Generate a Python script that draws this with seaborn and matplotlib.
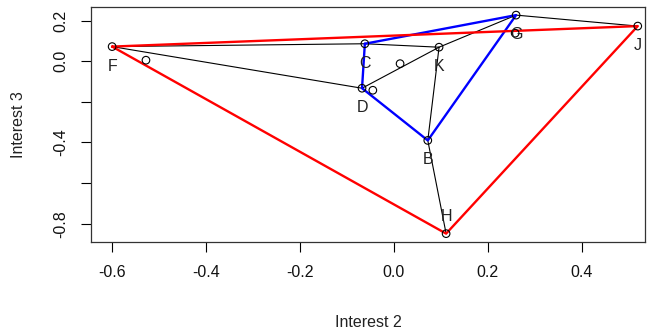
import matplotlib
matplotlib.use("Agg")
import matplotlib.pyplot as plt
import pandas as pd
import seaborn as sns

# labelled points
labels = ["F", "C", "D", "K", "G", "J", "B", "H"]
interest2 = [-0.600, -0.062, -0.068, 0.096, 0.260, 0.519, 0.072, 0.111]
interest3 = [0.072, 0.086, -0.133, 0.069, 0.227, 0.173, -0.390, -0.849]

# unlabelled points
extra2 = [-0.528, -0.045, 0.013, 0.258]
extra3 = [0.005, -0.143, -0.012, 0.138]

black_edges = [("F", "C"), ("F", "D"), ("C", "K"), ("D", "K"),
               ("K", "G"), ("G", "J"), ("K", "B"), ("B", "H")]
blue_path = ["C", "G", "B", "D", "C"]
red_path = ["F", "J", "H", "F"]

xticks = [-0.6, -0.4, -0.2, 0.0, 0.2, 0.4]
yticks = [0.2, 0.0, -0.2, -0.4, -0.6, -0.8]
ytick_labels = ["0.2", "0.0", "", "-0.4", "", "-0.8"]

sns.set_style("white")
plt.rcParams['font.family'] = ['Liberation Sans', 'DejaVu Sans']

pts = pd.DataFrame({'label': labels, 'x': interest2, 'y': interest3}).set_index('label')
extra = pd.DataFrame({'x': extra2, 'y': extra3})

fig, ax = plt.subplots(figsize=(6.5, 3.33), dpi=100)
fig.subplots_adjust(left=0.14, right=0.992, top=0.979, bottom=0.274)

for a, b in black_edges:
    ax.plot(pts.loc[[a, b], 'x'], pts.loc[[a, b], 'y'], color='black', lw=0.8, zorder=2)
ax.plot(pts.loc[blue_path, 'x'], pts.loc[blue_path, 'y'], color='blue', lw=1.7, zorder=3)
ax.plot(pts.loc[red_path, 'x'], pts.loc[red_path, 'y'], color='red', lw=1.7, zorder=3)

sns.scatterplot(data=pts, x='x', y='y', ax=ax, marker='o', s=30,
                facecolor='none', edgecolor='black', linewidth=0.8, zorder=4)
sns.scatterplot(data=extra, x='x', y='y', ax=ax, marker='o', s=30,
                facecolor='none', edgecolor='black', linewidth=0.8, zorder=4)

for lab, row in pts.iterrows():
    dy = 12 if lab == 'H' else -14
    ax.annotate(lab, (row['x'], row['y']), xytext=(0, dy), textcoords='offset points',
                ha='center', va='center', fontsize=11.5, color='#222222', zorder=5)

ax.set_xlim(-0.645, 0.534)
ax.set_ylim(-0.889, 0.267)
ax.set_xticks(xticks)
ax.set_xticklabels([f"{t:.1f}" for t in xticks])
ax.set_yticks(yticks)
ax.set_yticklabels(ytick_labels, rotation=90, va='center')
ax.tick_params(axis='both', direction='out', length=7.5, width=0.8, color='black',
               labelsize=11.5, labelcolor='#111111', bottom=True, left=True, pad=9)
for s in ax.spines.values():
    s.set_color('#333333')
    s.set_linewidth(0.9)

ax.set_xlabel('Interest 2', fontsize=11.5, color='#222222')
ax.set_ylabel('Interest 3', fontsize=11.5, color='#222222')
ax.xaxis.set_label_coords(0.5, -0.31)
ax.yaxis.set_label_coords(-0.118, 0.5)

fig.savefig('out.png', dpi=100)
